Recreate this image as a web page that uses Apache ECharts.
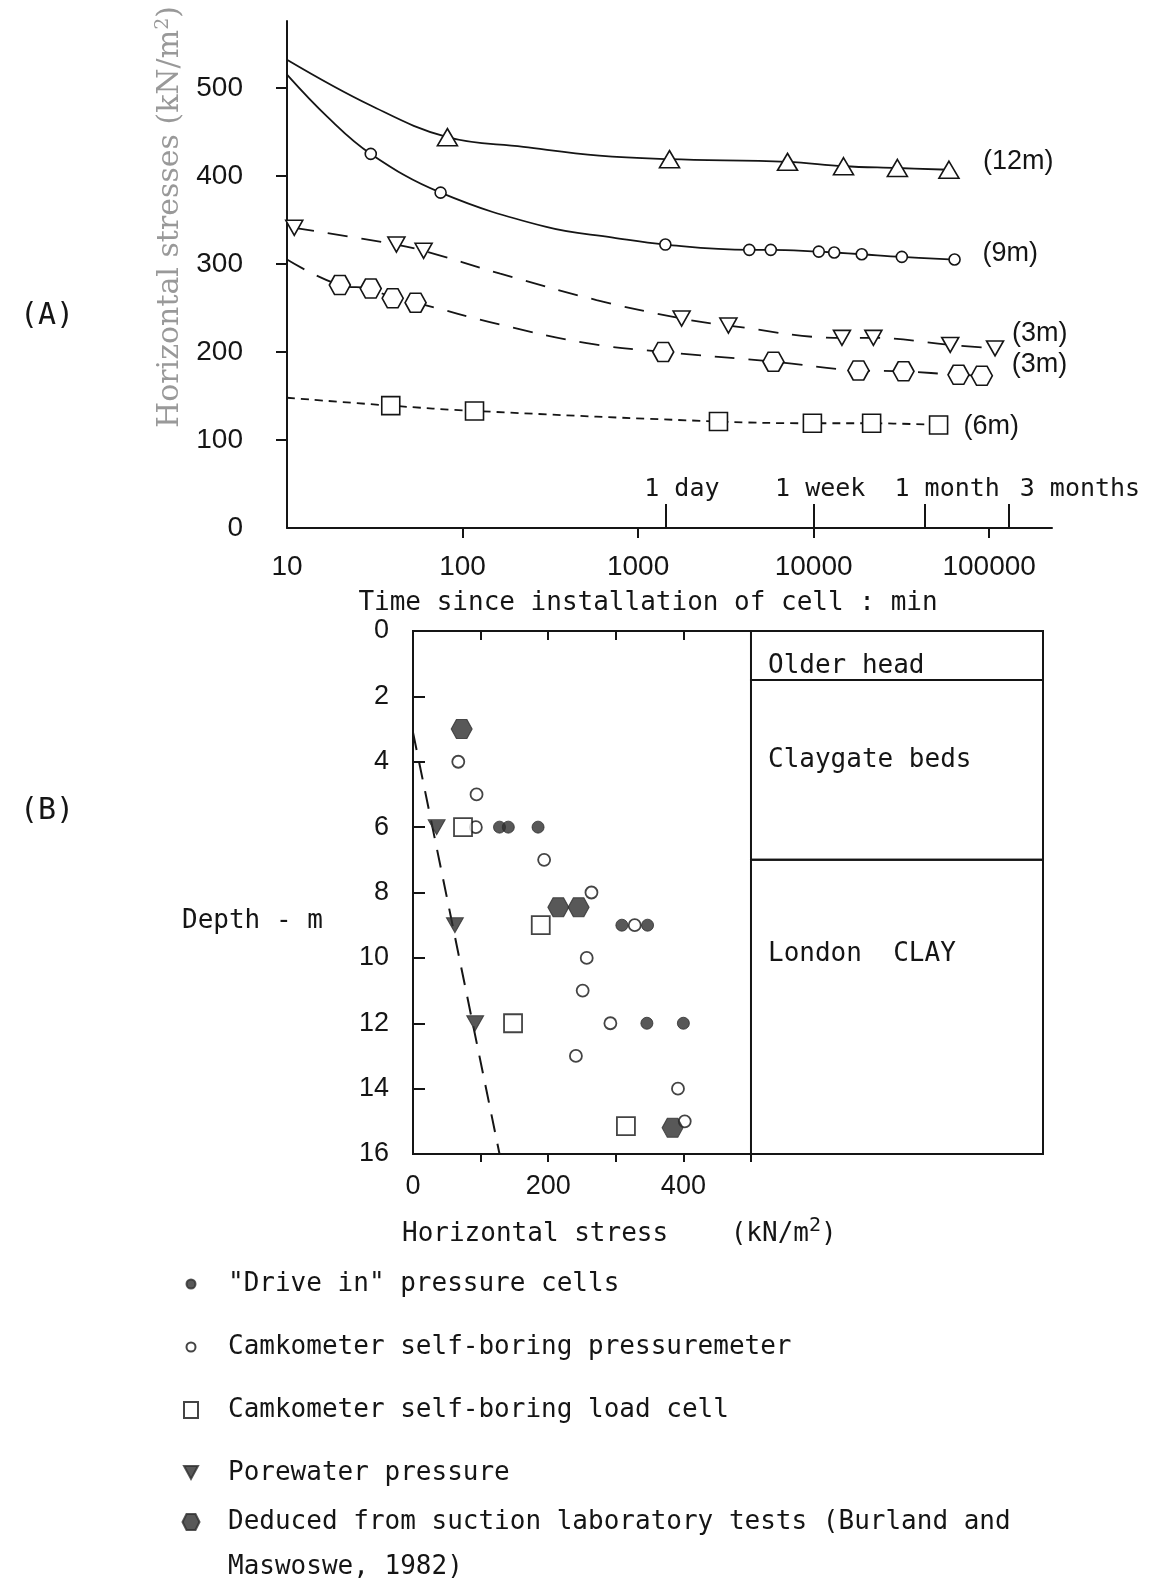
<!DOCTYPE html>
<html><head><meta charset="utf-8">
<script src="https://cdn.jsdelivr.net/npm/echarts@6/dist/echarts.min.js"></script>
<style>html,body{margin:0;padding:0;background:#fff}#c{width:1160px;height:1583px}</style>
</head><body><div id="c"></div>
<script>
// ---------- Panel (A): horizontal stress vs time ----------
const timeTickValues = [10, 100, 1000, 10000, 100000];
const periodValues = [1440, 10080, 43200, 129600];
const periodLabels = ['1 day', '1 week', '1 month', '3 months'];
const stressTicksA = [0, 100, 200, 300, 400, 500];

// marker points
const points12m = [[82, 444], [1510, 419], [7100, 416], [14800, 411], [30000, 409], [59000, 407]];
const points9m = [[30, 425], [75, 381], [1430, 322], [4300, 316], [5700, 316], [10700, 314], [13100, 313], [18800, 311], [31800, 308], [63500, 305]];
const points3mTri = [[11, 341], [42, 322], [60, 315], [1770, 238], [3270, 230], [14500, 216], [21900, 216], [60000, 208], [108000, 204]];
const points3mHex = [[20, 276], [30, 272], [40, 261], [54, 256], [1390, 200], [5900, 189], [18000, 179], [32500, 178], [66900, 174], [90800, 173]];
const points6m = [[39, 139], [117, 133], [2870, 121], [9840, 119], [21400, 119], [51500, 117]];
// points on the drawn curves without a marker
const curve12m = [[10, 532], [30, 480], [222, 433], [600, 423]];
const curve9m = [[10, 515], [17, 467], [300, 342], [720, 330]];
const curve3mTri = [[164, 289], [580, 259]];
const curve3mHex = [[10, 305], [164, 231], [510, 210]];
const curve6m = [[10, 148]];
const depthLabelsA = ['(12m)', '(9m)', '(3m)', '(3m)', '(6m)'];

// ---------- Panel (B): horizontal stress vs depth ----------
const depthTicks = [0, 2, 4, 6, 8, 10, 12, 14, 16];
const stressLabelsB = [0, 200, 400];
const stressTicksB = [100, 200, 300, 400, 500];
const driveIn = [[128, 6], [141, 6], [185, 6], [309, 9], [347, 9], [346, 12], [400, 12]];
const pressuremeter = [[67, 4], [94, 5], [93, 6], [194, 7], [264, 8], [328, 9], [257, 10], [251, 11], [292, 12], [241, 13], [392, 14], [402, 15]];
const loadCell = [[74, 6], [189, 9], [148, 12], [315, 15.15]];
const porewater = [[35, 6], [62, 9], [92, 12]];
const deduced = [[72, 3], [215, 8.45], [245, 8.45], [384, 15.2]];
const hydrostatic = [[0, 3.1], [128, 16]];
const strataNames = ['Older head', 'Claygate beds', 'London  CLAY'];
const strataTop = [0, 1.5, 7];
const strataBase = [1.5, 7, 16];
const strataFrom = 500, strataTo = 932;
const legendNames = ['"Drive in" pressure cells', 'Camkometer self-boring pressuremeter', 'Camkometer self-boring load cell', 'Porewater pressure', 'Deduced from suction laboratory tests (Burland and Maswoswe, 1982)'];

// ---------- styles ----------
const INK = '#151515', FILL = '#2e2e2e';
const MONO = '"DejaVu Sans Mono", "Liberation Mono", monospace';
const SANS = '"Liberation Sans", Arial, sans-serif';
const SERIF = '"DejaVu Serif", "Liberation Serif", serif';
const TRI_DOWN = 'path://M0,0 L20,0 L10,17 Z';
const HEX = 'path://M5,0 L15,0 L20,9 L15,18 L5,18 L0,9 Z';

function seriesA(name, curve, pts, symbol, size, dash, idx, dist, dy) {
  const data = curve.map(p => ({ value: p, symbol: 'none' })).concat(pts.map(p => ({ value: p })));
  data.sort((a, b) => a.value[0] - b.value[0]);
  return {
    type: 'line', name, xAxisIndex: 0, yAxisIndex: 0, data,
    smooth: 0.4, symbol, symbolSize: size, showAllSymbol: true,
    lineStyle: { color: INK, width: 1.8, type: dash },
    itemStyle: { color: '#fff', borderColor: INK, borderWidth: 1.6 },
    endLabel: { show: true, formatter: depthLabelsA[idx], distance: dist, offset: [0, dy], color: INK, fontFamily: SANS, fontSize: 27 },
    silent: true
  };
}

function scatterB(name, data, symbol, size, filled) {
  return {
    type: 'scatter', name, xAxisIndex: 2, yAxisIndex: 1, data, symbol, symbolSize: size,
    itemStyle: filled ? { color: FILL, borderColor: FILL, borderWidth: 1 } : { color: '#fff', borderColor: INK, borderWidth: 1.8 },
    silent: true, z: 5
  };
}

const axisLineStyle = { color: INK, width: 2 };

const option = {
  backgroundColor: '#fff',
  animation: false,
  grid: [
    { left: 287, top: 21, width: 765, height: 507 },
    { left: 413, top: 631, width: 630, height: 523, show: true, borderColor: INK, borderWidth: 2, backgroundColor: 'rgba(0,0,0,0)' }
  ],
  xAxis: [
    { gridIndex: 0, type: 'log', logBase: 10, min: 10, max: 228000, position: 'bottom',
      axisLine: { show: true, onZero: false, lineStyle: axisLineStyle },
      axisTick: { show: true, customValues: [100, 1000, 10000, 100000], length: 10, lineStyle: axisLineStyle },
      axisLabel: { customValues: timeTickValues, formatter: v => String(Math.round(v)), margin: 25, fontSize: 28, fontFamily: SANS, color: INK },
      splitLine: { show: false }, minorTick: { show: false } },
    { gridIndex: 0, type: 'log', logBase: 10, min: 10, max: 228000, position: 'bottom',
      axisLine: { show: false, onZero: false },
      axisTick: { show: true, inside: true, customValues: periodValues, length: 24, lineStyle: axisLineStyle },
      axisLabel: { inside: true, customValues: periodValues, margin: 26,
        formatter: v => {
          let best = 0;
          periodValues.forEach((p, i) => { if (Math.abs(Math.log(p / v)) < Math.abs(Math.log(periodValues[best] / v))) best = i; });
          return '{p' + best + '|' + periodLabels[best] + '}';
        },
        rich: {
          p0: { padding: [0, 0, 0, 32], fontFamily: MONO, fontSize: 25, color: INK },
          p1: { padding: [0, 0, 0, 12], fontFamily: MONO, fontSize: 25, color: INK },
          p2: { padding: [0, 0, 0, 44], fontFamily: MONO, fontSize: 25, color: INK },
          p3: { padding: [0, 0, 0, 142], fontFamily: MONO, fontSize: 25, color: INK }
        } },
      splitLine: { show: false } },
    { gridIndex: 1, type: 'value', min: 0, max: strataTo, position: 'bottom',
      axisLine: { show: true, onZero: false, lineStyle: axisLineStyle },
      axisTick: { show: true, customValues: stressTicksB, length: 8, lineStyle: axisLineStyle },
      axisLabel: { customValues: stressLabelsB, margin: 19, fontSize: 27, fontFamily: SANS, color: INK },
      splitLine: { show: false } },
    { gridIndex: 1, type: 'value', min: 0, max: strataTo, position: 'top',
      axisLine: { show: true, onZero: false, lineStyle: axisLineStyle },
      axisTick: { show: true, inside: true, customValues: [100, 200, 300, 400], length: 9, lineStyle: axisLineStyle },
      axisLabel: { show: false }, splitLine: { show: false } }
  ],
  yAxis: [
    { gridIndex: 0, type: 'value', min: 0, max: 576,
      axisLine: { show: true, onZero: false, lineStyle: axisLineStyle },
      axisTick: { show: true, customValues: [100, 200, 300, 400, 500], length: 11, lineStyle: axisLineStyle },
      axisLabel: { customValues: stressTicksA, margin: 44, fontSize: 28, fontFamily: SANS, color: INK },
      splitLine: { show: false } },
    { gridIndex: 1, type: 'value', inverse: true, min: 0, max: 16, interval: 2,
      axisLine: { show: true, onZero: false, lineStyle: axisLineStyle },
      axisTick: { show: true, inside: true, customValues: [2, 4, 6, 8, 10, 12, 14], length: 12, lineStyle: axisLineStyle },
      axisLabel: { customValues: depthTicks, margin: 24, fontSize: 27, fontFamily: SANS, color: INK },
      splitLine: { show: false } }
  ],
  legend: [
    { orient: 'vertical', left: 176, top: 1264, itemWidth: 18, itemHeight: 18, itemGap: 33, selectedMode: false,
      textStyle: { fontFamily: MONO, fontSize: 26, color: INK, lineHeight: 30, padding: [0, 0, 0, 23] },
      data: [
        { name: legendNames[0], icon: 'path://M0,0M18,18M9,4.5A4.5,4.5,0,1,1,9,13.5A4.5,4.5,0,1,1,9,4.5Z' },
        { name: legendNames[1], icon: 'path://M0,0M18,18M9,4.5A4.5,4.5,0,1,1,9,13.5A4.5,4.5,0,1,1,9,4.5Z' },
        { name: legendNames[2], icon: 'path://M0,0M18,18M2,1L16,1L16,17L2,17Z' },
        { name: legendNames[3], icon: 'path://M0,0M18,18M2,2L16,2L9,15Z' }
      ] },
    { orient: 'vertical', left: 176, top: 1502, itemWidth: 18, itemHeight: 18, selectedMode: false,
      textStyle: { fontFamily: MONO, fontSize: 26, color: INK, lineHeight: 30, padding: [0, 0, 0, 23] },
      formatter: () => 'Deduced from suction laboratory tests (Burland and',
      data: [{ name: legendNames[4], icon: 'path://M0,0M18,18M4.5,1L13.5,1L17.5,9L13.5,17L4.5,17L0.5,9Z' }] }
  ],
  graphic: [
    { type: 'text', x: 20, y: 316, style: { text: '(A)', font: '30px ' + MONO, fill: INK, align: 'left', verticalAlign: 'middle' } },
    { type: 'text', x: 20, y: 811, style: { text: '(B)', font: '30px ' + MONO, fill: INK, align: 'left', verticalAlign: 'middle' } },
    { type: 'text', x: 170, y: 217, rotation: Math.PI / 2,
      style: { text: '{a|Horizontal stresses (kN/m}{s|2}{a|)}', align: 'center', verticalAlign: 'middle',
        rich: { a: { fontFamily: SERIF, fontSize: 30, fill: '#999' }, s: { fontFamily: SERIF, fontSize: 19, fill: '#999', padding: [0, 0, 14, 0] } } } },
    { type: 'text', x: 648, y: 603, style: { text: 'Time since installation of cell : min', font: '26px ' + MONO, fill: INK, align: 'center', verticalAlign: 'middle' } },
    { type: 'text', x: 182, y: 921, style: { text: 'Depth - m', font: '26px ' + MONO, fill: INK, align: 'left', verticalAlign: 'middle' } },
    { type: 'text', x: 402, y: 1234,
      style: { text: '{a|Horizontal stress    (kN/m}{s|2}{a|)}', align: 'left', verticalAlign: 'middle',
        rich: { a: { fontFamily: MONO, fontSize: 26, fill: INK }, s: { fontFamily: MONO, fontSize: 20, fill: INK, padding: [0, 0, 16, 0] } } } },
    { type: 'text', x: 228, y: 1567, style: { text: 'Maswoswe, 1982)', font: '26px ' + MONO, fill: INK, align: 'left', verticalAlign: 'middle' } }
  ],
  series: [
    seriesA('12m', curve12m, points12m, 'triangle', [20, 17], 'solid', 0, 34, -8),
    seriesA('9m', curve9m, points9m, 'circle', 11, 'solid', 1, 28, -6),
    seriesA('3m-tri', curve3mTri, points3mTri, TRI_DOWN, [17, 15], [20, 14], 2, 17, -15),
    seriesA('3m-hex', curve3mHex, points3mHex, HEX, [21, 19], [20, 14], 3, 30, -11),
    seriesA('6m', curve6m, points6m, 'rect', 18, [8, 6], 4, 25, 2),
    { type: 'line', name: 'hydrostatic', xAxisIndex: 2, yAxisIndex: 1, data: hydrostatic, symbol: 'none', silent: true,
      lineStyle: { color: INK, width: 2, type: [18, 12] },
      markArea: { silent: true,
        itemStyle: { color: 'rgba(0,0,0,0)', borderColor: INK, borderWidth: 2 },
        label: { show: true, position: 'insideTopLeft', distance: 0, fontFamily: MONO, fontSize: 26, lineHeight: 26, color: INK },
        data: strataNames.map((n, i) => [
          { name: n, xAxis: strataFrom, yAxis: strataTop[i], label: { padding: [[23, 68, 82][i], 0, 0, 18] } },
          { xAxis: strataTo, yAxis: strataBase[i] }
        ]) } },
    scatterB(legendNames[0], driveIn, 'circle', 12, true),
    scatterB(legendNames[1], pressuremeter, 'circle', 12, false),
    scatterB(legendNames[2], loadCell, 'rect', 18, false),
    scatterB(legendNames[3], porewater, TRI_DOWN, [17, 15], true),
    scatterB(legendNames[4], deduced, HEX, [21, 19], true)
  ]
};

const chart = echarts.init(document.getElementById('c'), null, { renderer: 'canvas' });
chart.setOption(option);
</script>
</body></html>
